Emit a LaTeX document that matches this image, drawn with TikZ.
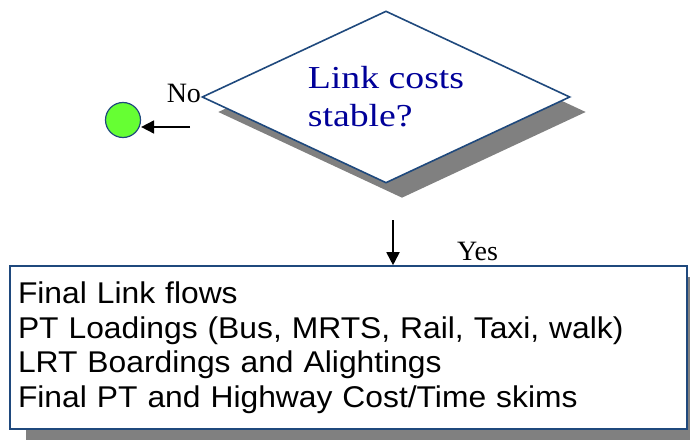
\documentclass[tikz,border=0pt]{standalone}
\usepackage{fontspec}
\setmainfont{Liberation Serif}
\newfontfamily\boxfont[FakeStretch=1.06]{Liberation Sans}
\newfontfamily\diafont[FakeStretch=1.18]{Liberation Serif}
\usetikzlibrary{shapes.geometric,shadows,arrows.meta}
\definecolor{edgeblue}{RGB}{31,73,125}
\definecolor{textnavy}{RGB}{0,0,153}
\definecolor{shadowgray}{RGB}{128,128,128}
\definecolor{endgreen}{RGB}{102,255,51}
\begin{document}
\begin{tikzpicture}[x=1pt,y=-1pt]
    \tikzstyle{decision}=[diamond,aspect=2.14,draw=edgeblue,line width=1.6pt,fill=white,inner sep=0pt,minimum width=368pt,minimum height=172pt,align=left,text=textnavy,font={\diafont\fontsize{32}{38}\selectfont},drop shadow={shadow xshift=16pt,shadow yshift=-15pt,fill=shadowgray,opacity=1}]
    \tikzstyle{result}=[rectangle,draw=edgeblue,line width=1.6pt,fill=white,inner xsep=8pt,inner ysep=0pt,minimum width=677pt,minimum height=163pt,text width=661pt,align=left,font={\boxfont\fontsize{30}{34.5}\selectfont},drop shadow={shadow xshift=16pt,shadow yshift=-11pt,fill=shadowgray,opacity=1}]
    \tikzstyle{finish}=[circle,draw=edgeblue,line width=1.2pt,fill=endgreen,inner sep=0pt,minimum size=35pt]
    \tikzstyle{answer}=[inner sep=0pt,font={\fontsize{28}{30}\selectfont}]
    \tikzstyle{flow}=[line width=1.8pt,-{Triangle[length=13pt,width=13pt]}]
    \useasboundingbox (0,0) rectangle (690,441);
    \node (cost)[decision] at (386,97) {Link costs\\stable?};
    \node (out)[result] at (348.5,347.5) {Final Link flows\\PT Loadings (Bus, MRTS, Rail, Taxi, walk)\\LRT Boardings and Alightings\\Final PT and Highway Cost/Time skims};
    \node (done)[finish] at (123,120) {};
    \node (no)[answer,anchor=east,yshift=4pt] at (cost.west) {No};
    \node (yes)[answer,anchor=base west] at (457,260) {Yes};
    \coordinate (nostart) at (190,127);
    \coordinate (yesstart) at (393,220);
    \draw[flow] (nostart) -- (nostart -| done.east);
    \draw[flow] (yesstart) -- (yesstart |- out.north);
\end{tikzpicture}
\end{document}
